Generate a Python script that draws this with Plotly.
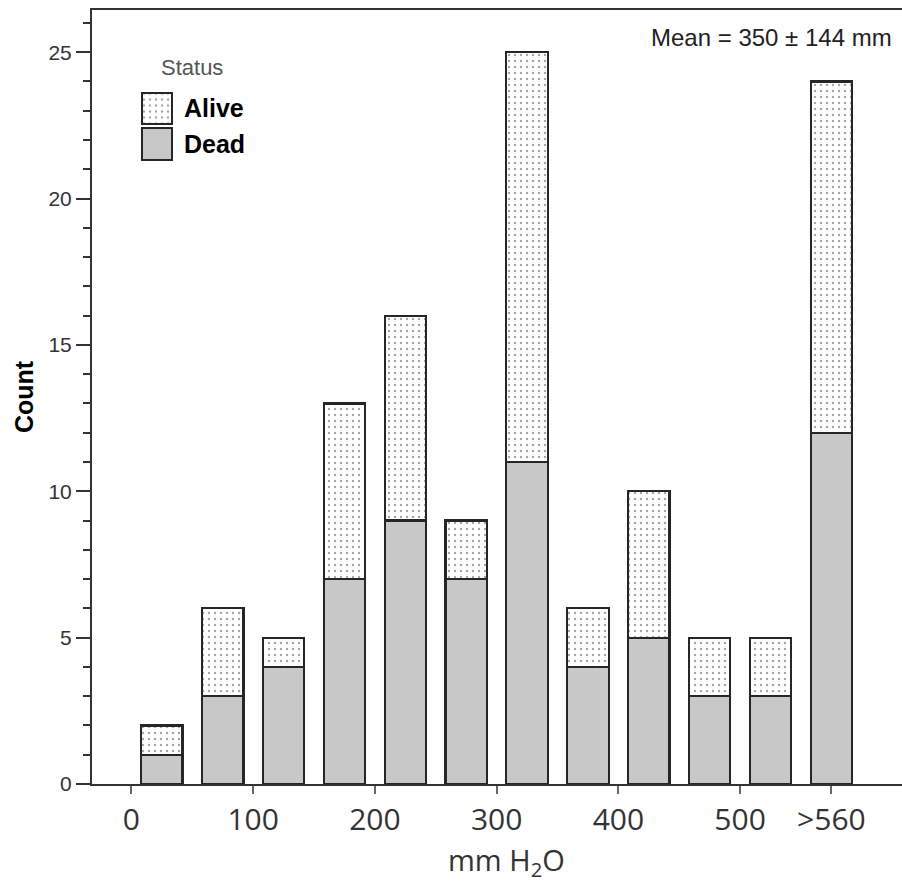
import plotly.graph_objects as go

# bin centres (mm H2O) and counts
bin_centers = [25, 75, 125, 175, 225, 275, 325, 375, 425, 475, 525, 575]
dead = [1, 3, 4, 7, 9, 7, 11, 4, 5, 3, 3, 12]
alive = [1, 3, 1, 6, 7, 2, 14, 2, 5, 2, 2, 12]

tick_vals = [0, 100, 200, 300, 400, 500, 575]
tick_text = ["0", "100", "200", "300", "400", "500", ">560"]

legend_names = ["Dead", "Alive"]

OUTLINE = "#262626"
DEAD_FILL = "#c8c8c8"
dots = dict(shape=".", size=6, solidity=0.12, fgcolor="#4a4a4a", bgcolor="white")

fig = go.Figure()

fig.add_trace(go.Bar(x=bin_centers, y=dead, width=34, name="Dead",
                     marker=dict(color=DEAD_FILL, line=dict(color=OUTLINE, width=2.2)),
                     showlegend=False))
fig.add_trace(go.Bar(x=bin_centers, y=alive, width=34, name="Alive",
                     marker=dict(color="white", pattern=dots, line=dict(color=OUTLINE, width=2.2)),
                     showlegend=False))

# hand-made legend boxes on a small overlay axis so they can be big like the original
fig.add_trace(go.Bar(y=[legend_names[0]], x=[1], base=0, orientation="h", width=0.88,
                     xaxis="x2", yaxis="y2", showlegend=False, hoverinfo="skip",
                     marker=dict(color=DEAD_FILL, line=dict(color=OUTLINE, width=2))))
fig.add_trace(go.Bar(y=[legend_names[1]], x=[1], base=0, orientation="h", width=0.88,
                     xaxis="x2", yaxis="y2", showlegend=False, hoverinfo="skip",
                     marker=dict(color="white", pattern=dots, line=dict(color=OUTLINE, width=2))))

fig.update_layout(
    width=902, height=882,
    margin=dict(l=92, r=0, t=10, b=98),
    barmode="stack",
    plot_bgcolor="white", paper_bgcolor="white",
    showlegend=False,
    xaxis=dict(range=[-32.4, 633], tickvals=tick_vals, ticktext=tick_text,
               automargin=False, showgrid=False, zeroline=False,
               showline=True, linecolor="#333", linewidth=2, mirror=True,
               ticks="outside", ticklen=8, tickwidth=1.5, tickcolor="#666",
               tickfont=dict(family="Open Sans", size=30, color="#333")),
    yaxis=dict(range=[0, 26.44], dtick=5, showgrid=False, zeroline=False,
               automargin=False,
               showline=True, linecolor="#333", linewidth=2,
               ticks="outside", ticklen=14, tickwidth=1.5, tickcolor="#333",
               minor=dict(dtick=1, ticks="outside", ticklen=7, tickwidth=1.5, tickcolor="#333"),
               tickfont=dict(family="Liberation Sans", size=21, color="#333"),
               title=dict(text="<b>Count</b>", standoff=8,
                          font=dict(family="Liberation Sans", size=25, color="black"))),
    xaxis2=dict(domain=[0.0605, 0.1], range=[-0.04, 1.04], anchor="y2", visible=False),
    yaxis2=dict(domain=[0.804, 0.896], anchor="x2", visible=False,
                categoryorder="array", categoryarray=legend_names),
    annotations=[
        dict(text="mm H<sub>2</sub>O", xref="paper", yref="paper", x=0.512, y=-0.1,
             xanchor="center", yanchor="middle", showarrow=False,
             font=dict(family="Open Sans", size=29, color="#333")),
        dict(text="Mean = 350 ± 144 mm", xref="paper", yref="paper", x=0.99, y=0.965,
             xanchor="right", yanchor="middle", showarrow=False,
             font=dict(family="Liberation Sans", size=24, color="#222")),
        dict(text="Status", xref="paper", yref="paper", x=0.124, y=0.926,
             xanchor="center", yanchor="middle", showarrow=False,
             font=dict(family="Liberation Sans", size=22, color="#555")),
        dict(text="<b>Alive</b>", xref="paper", yref="paper", x=0.111, y=0.873,
             xanchor="left", yanchor="middle", showarrow=False,
             font=dict(family="Liberation Sans", size=25, color="black")),
        dict(text="<b>Dead</b>", xref="paper", yref="paper", x=0.111, y=0.827,
             xanchor="left", yanchor="middle", showarrow=False,
             font=dict(family="Liberation Sans", size=25, color="black")),
    ],
)

# drop the browser's default 8px body margin so the figure fills the window exactly
fig.write_html("out.html", config={"displayModeBar": False},
               post_script="document.body.style.margin='0px';")
